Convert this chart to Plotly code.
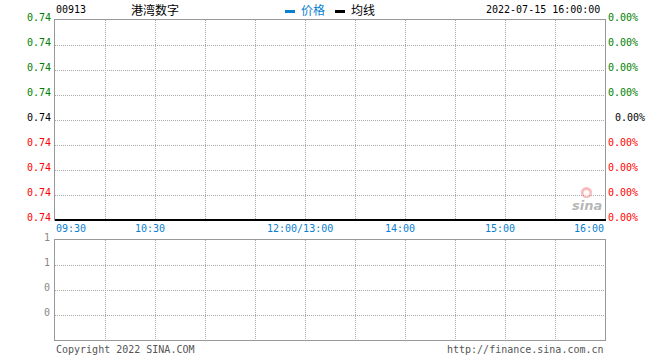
import plotly.graph_objects as go

# ---- data ----
stock_code = "00913"
stock_name = "港湾数字"
timestamp = "2022-07-15 16:00:00"
time_labels = ["09:30", "10:30", "12:00/13:00", "14:00", "15:00", "16:00"]
time_label_pos = [0, 60, 150, 210, 270, 330]          # minutes since open (trading time)
price_ticks = ["0.74"] * 9                              # top to bottom
pct_ticks = ["0.00%"] * 9
volume_ticks = ["1", "1", "0", "0"]                     # top to bottom
price_series = []                                       # no trades shown
avg_series = []
price_times = []

W, H = 660, 360
L, R = 55, 605
TOP1, BOT1 = 20, 220
TOP2, BOT2 = 240, 340

def py(pix):
    return 1 - pix / H

def px(pix):
    return pix / W

FONT = "DejaVu Sans Mono, Noto Sans CJK SC, monospace"
CJK = "Noto Sans CJK SC, DejaVu Sans, sans-serif"
BLUE = "#0A7FD0"
GRID = "#aaaaaa"
BORDER = "#999999"
FS = 10

fig = go.Figure()
fig.add_trace(go.Scatter(x=price_times, y=price_series, mode="lines",
                         line=dict(color=BLUE, width=1), name="价格",
                         showlegend=False, xaxis="x", yaxis="y"))
fig.add_trace(go.Scatter(x=price_times, y=avg_series, mode="lines",
                         line=dict(color="black", width=1), name="均线",
                         showlegend=False, xaxis="x", yaxis="y"))
fig.add_trace(go.Bar(x=[], y=[], xaxis="x2", yaxis="y2", showlegend=False))

n_price = len(price_ticks) - 1
n_vol = len(volume_ticks)
xgrid = list(range(0, 331, 30))

axis_common = dict(showline=True, linecolor=BORDER, linewidth=1, mirror=True,
                   showgrid=True, gridcolor=GRID, griddash="1px,1px", gridwidth=1,
                   zeroline=False, showticklabels=False, ticks="", fixedrange=True)

fig.update_layout(
    width=W, height=H,
    margin=dict(l=0, r=0, t=0, b=0),
    paper_bgcolor="white", plot_bgcolor="white",
    showlegend=False,
    xaxis=dict(domain=[px(L), px(R)], range=[0, 330], tickvals=xgrid, anchor="y", **axis_common),
    yaxis=dict(domain=[py(BOT1), py(TOP1)], range=[0, n_price],
               tickvals=list(range(n_price + 1)), anchor="x", **axis_common),
    xaxis2=dict(domain=[px(L), px(R)], range=[0, 330], tickvals=xgrid, anchor="y2", **axis_common),
    yaxis2=dict(domain=[py(BOT2), py(TOP2)], range=[0, n_vol],
                tickvals=list(range(n_vol + 1)), anchor="x2", **axis_common),
)

ann = []
for i, (pt, pc) in enumerate(zip(price_ticks, pct_ticks)):
    yv = n_price - i
    if i < n_price / 2:
        col = "#008000"
    elif i == n_price / 2:
        col = "black"
    else:
        col = "#ff0000"
    ann.append(dict(x=px(53), xref="paper", y=yv, yref="y", text=pt, showarrow=False,
                    xanchor="right", yanchor="middle", yshift=3,
                    font=dict(family=FONT, size=FS, color=col)))
    xoff = 613 if i == n_price / 2 else 606
    ann.append(dict(x=px(xoff), xref="paper", y=yv, yref="y", text=pc, showarrow=False,
                    xanchor="left", yanchor="middle", yshift=3,
                    font=dict(family=FONT, size=FS, color=col)))

for j, (lab, pos) in enumerate(zip(time_labels, time_label_pos)):
    if j == 0:
        xa, xs = "left", -1
    elif j == len(time_labels) - 1:
        xa, xs = "right", 1
    else:
        xa, xs = "center", -5
    ann.append(dict(x=pos, xref="x", y=py(228), yref="paper", text=lab, showarrow=False,
                    xanchor=xa, yanchor="middle", xshift=xs,
                    font=dict(family=FONT, size=FS, color=BLUE)))

for i, vt in enumerate(volume_ticks):
    yv = n_vol - i
    ann.append(dict(x=px(52), xref="paper", y=yv, yref="y2", text=vt, showarrow=False,
                    xanchor="right", yanchor="middle", yshift=3,
                    font=dict(family=FONT, size=FS, color="#888888")))

ann += [
    dict(x=px(54), y=py(9), xref="paper", yref="paper", text=stock_code, showarrow=False,
         xanchor="left", yanchor="middle", font=dict(family=FONT, size=FS, color="black")),
    dict(x=px(129), y=py(9), xref="paper", yref="paper", text=stock_name, showarrow=False,
         xanchor="left", yanchor="middle", font=dict(family=CJK, size=12, color="black")),
    dict(x=px(299), y=py(9), xref="paper", yref="paper", text="价格", showarrow=False,
         xanchor="left", yanchor="middle", font=dict(family=CJK, size=12, color=BLUE)),
    dict(x=px(349), y=py(9), xref="paper", yref="paper", text="均线", showarrow=False,
         xanchor="left", yanchor="middle", font=dict(family=CJK, size=12, color="black")),
    dict(x=px(602), y=py(9), xref="paper", yref="paper", text=timestamp, showarrow=False,
         xanchor="right", yanchor="middle", font=dict(family=FONT, size=FS, color="black")),
    dict(x=px(54), y=py(349), xref="paper", yref="paper", text="Copyright 2022 SINA.COM",
         showarrow=False, xanchor="left", yanchor="middle",
         font=dict(family=FONT, size=FS, color="#555555")),
    dict(x=px(606), y=py(349), xref="paper", yref="paper", text="http://finance.sina.com.cn",
         showarrow=False, xanchor="right", yanchor="middle",
         font=dict(family=FONT, size=FS, color="#555555")),
    dict(x=px(587), y=py(205), xref="paper", yref="paper", text="<b><i>sina</i></b>",
         showarrow=False, xanchor="center", yanchor="middle",
         font=dict(family="DejaVu Sans, sans-serif", size=13, color="rgba(150,150,150,0.7)")),
]
fig.update_layout(annotations=ann)

shapes = [
    dict(type="rect", xref="paper", yref="paper", x0=px(285), x1=px(295), y0=py(13), y1=py(10),
         fillcolor=BLUE, line=dict(width=0)),
    dict(type="rect", xref="paper", yref="paper", x0=px(335), x1=px(345), y0=py(13), y1=py(10),
         fillcolor="black", line=dict(width=0)),
    dict(type="line", xref="paper", yref="paper", x0=px(L), x1=px(R + 1), y0=py(BOT1), y1=py(BOT1),
         line=dict(color="black", width=2)),
    dict(type="circle", xref="paper", yref="paper", x0=px(581), x1=px(592), y0=py(198), y1=py(187),
         fillcolor="rgba(240,120,120,0.5)", line=dict(width=0)),
    dict(type="circle", xref="paper", yref="paper", x0=px(583.5), x1=px(589.5), y0=py(196), y1=py(190),
         fillcolor="rgba(255,255,255,0.9)", line=dict(width=0)),
]
fig.update_layout(shapes=shapes)

fig.write_html("out.html", config={"displayModeBar": False, "staticPlot": True},
               post_script="document.body.style.margin='0';")
